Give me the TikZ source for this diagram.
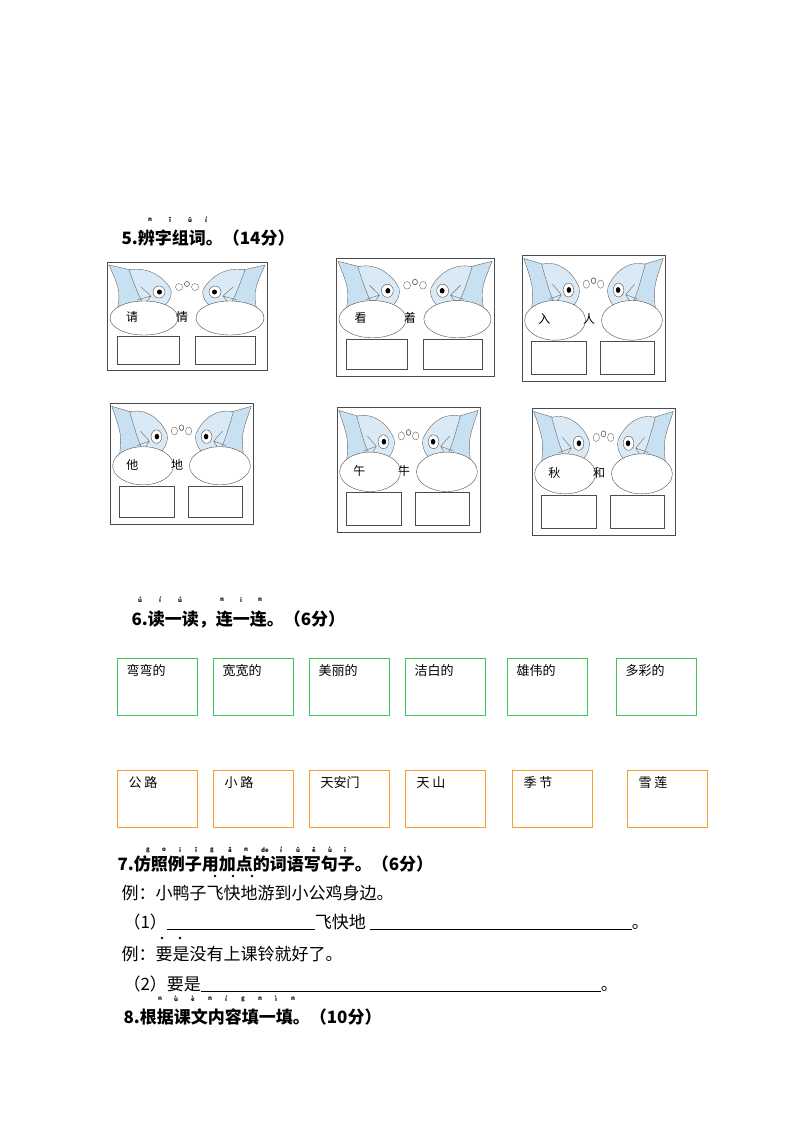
\documentclass[tikz,border=0pt]{standalone}
\usepackage{fontspec}
\setmainfont{Noto Sans CJK SC}
\usetikzlibrary{positioning}
\definecolor{fishblue}{RGB}{200,225,242}
\definecolor{boxgreen}{RGB}{60,200,80}
\definecolor{boxorange}{RGB}{245,160,40}
\tikzset{
  frame/.style={draw=black!70,line width=0.6pt},
  word/.style={font=\fontsize{12}{12}\selectfont},
  pin/.style={font=\fontsize{6}{6}\selectfont\bfseries},
  head/.style={font=\fontsize{17}{17}\selectfont\bfseries,anchor=base west},
  line/.style={font=\fontsize{17}{17}\selectfont,anchor=base west},
  green box/.style={draw=boxgreen,line width=1.2pt,minimum width=80pt,minimum height=57pt,anchor=north west},
  orange box/.style={draw=boxorange,line width=1.2pt,minimum width=80pt,minimum height=57pt,anchor=north west},
  box text/.style={font=\fontsize{13}{13}\selectfont,anchor=north west}
}
% one fish, eye at the origin, facing right
\newcommand{\onefish}{%
  \draw[black!60,fill=fishblue] (-28,-22) -- (-50,-27) .. controls (-38,0) .. (-44,30) -- (-10,20) -- cycle;
  \draw[black!60,fill=fishblue!70] (-30,-22) .. controls (-10,-26) and (6,-14) .. (12,-2) .. controls (14,8) and (4,18) .. (-10,20) .. controls (-20,5) .. (-30,-22);
  \draw[black!60] (-18,-5) -- (-8,4) (-22,8) -- (-8,4) (-16,14) -- (-8,4);
  \draw[black!70,fill=white] (0,0) circle (6);
  \fill[black] (0.5,0) circle (2.5);
  \draw[black!60] (20,-5) circle (3.5) (28,-8) circle (2.5);
}
% box with two fish: #1 position, #2 #3 size, #4 #5 characters
\newcommand{\fishbox}[5]{%
  \begin{scope}[shift={#1},xscale=#2/160,yscale=#3/108]
    \draw[frame] (0,0) rectangle (160,108);
    \begin{scope}[shift={(52,30)}]\onefish\end{scope}
    \begin{scope}[shift={(108,30)},xscale=-1]\onefish\end{scope}
    \draw[black!70,fill=white] (37,56) ellipse (34 and 17);
    \draw[black!70,fill=white] (123,56) ellipse (34 and 17);
    \node[word] at (25,55) {#4};
    \node[word] at (75,55) {#5};
    \draw[frame] (10,74) rectangle (72,102);
    \draw[frame] (88,74) rectangle (148,102);
  \end{scope}}
\begin{document}
\begin{tikzpicture}[x=1pt,y=-1pt]
\useasboundingbox[fill=white] (0,0) rectangle (800,1132);
% section 5
\foreach \x/\l in {150/n,170/ǐ,190/ū,206/í}
  \node[pin] at (\x,220) {\l};
\node[head] at (118,244) {5.辨字组词。（14分）};
\fishbox{(107,262)}{160}{108}{请}{情}
\fishbox{(336,258)}{158}{118}{看}{着}
\fishbox{(522,255)}{143}{126}{入}{人}
\fishbox{(110,403)}{143}{121}{他}{地}
\fishbox{(337,407)}{143}{125}{午}{牛}
\fishbox{(532,408)}{143}{127}{秋}{和}
% section 6
\foreach \x/\l in {140/ú,160/í,180/ú,222/n,241/i,260/n}
  \node[pin] at (\x,600) {\l};
\node[head] at (128,625) {6.读一读，连一连。（6分）};
\foreach \x [count=\i] in {117,213,309,405,507,616}
  \node[green box] (top\i) at (\x,658) {};
\foreach \i/\t in {1/弯弯的,2/宽宽的,3/美丽的,4/洁白的,5/雄伟的,6/多彩的}
  \node[box text] at ([xshift=6pt,yshift=-3pt]top\i.north west) {\t};
\foreach \x [count=\i] in {117,213,309,405,512,627}
  \node[orange box] (low\i) at (\x,770) {};
\foreach \i/\t in {1/公 路,2/小 路,3/天安门,4/天 山,5/季 节,6/雪 莲}
  \node[box text] at ([xshift=8pt,yshift=-3pt]low\i.north west) {\t};
% section 7
\foreach \x/\l in {148/g,164/o,180/i,196/ī,212/g,230/ǎ,246/n,265/de,281/í,298/ū,314/ě,330/ù,345/ī}
  \node[pin] at (\x,850) {\l};
\node[head] at (114,870) {7.仿照例子用加点的词语写句子。（6分）};
\foreach \x in {215,233,252} \fill (\x,876) circle (1.3);
\node[line] at (118,899) {例：小鸭子飞快地游到小公鸡身边。};
\node[line] at (120,928) {（1）\underline{\hspace{148pt}}飞快地 \underline{\hspace{262pt}}。};
\foreach \x in {162,180} \fill (\x,938) circle (1.3);
\node[line] at (118,960) {例：要是没有上课铃就好了。};
\node[line] at (120,990) {（2）要是\underline{\hspace{400pt}}。};
\foreach \x/\l in {160/n,176/ù,193/è,210/n,226/í,243/g,260/n,276/ì,293/n}
  \node[pin] at (\x,999) {\l};
\node[head] at (120,1023) {8.根据课文内容填一填。（10分）};
\end{tikzpicture}
\end{document}
